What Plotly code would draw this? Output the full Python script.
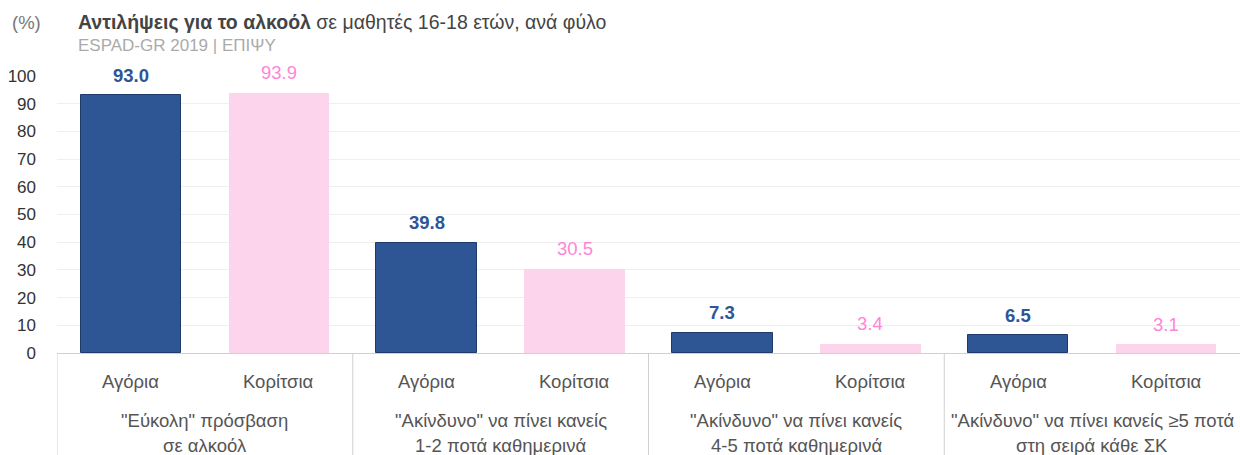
import plotly.graph_objects as go

groups = [
    ["\"Εύκολη\" πρόσβαση", "σε αλκοόλ"],
    ["\"Ακίνδυνο\" να πίνει κανείς", "1-2 ποτά καθημερινά"],
    ["\"Ακίνδυνο\" να πίνει κανείς", "4-5 ποτά καθημερινά"],
    ["\"Ακίνδυνο\" να πίνει κανείς ≥5 ποτά", "στη σειρά κάθε ΣΚ"],
]
sexes = ["Αγόρια", "Κορίτσια"]
boys = [93.0, 39.8, 7.3, 6.5]
girls = [93.9, 30.5, 3.4, 3.1]
y_ticks = list(range(0, 101, 10))

BOY = "#2E5594"
BOY_LINE = "#1E3A6A"
GIRL = "#FCD5EC"
GIRL_TXT = "#FF85D8"
FONT = "Liberation Sans, Arial, sans-serif"
CAT = 18.5

bx = [2 * i for i in range(len(groups))]
gx = [2 * i + 1 for i in range(len(groups))]

fig = go.Figure()
fig.add_trace(go.Bar(x=bx, y=boys, width=0.68, marker=dict(color=BOY, line=dict(color=BOY_LINE, width=1)),
                     hoverinfo="y", name=sexes[0]))
fig.add_trace(go.Bar(x=gx, y=girls, width=0.68, marker=dict(color=GIRL, line=dict(width=0)),
                     hoverinfo="y", name=sexes[1]))

ann = []
for x, v in zip(bx, boys):
    ann.append(dict(x=x, y=v, xref="x", yref="y", text=f"<b>{v:.1f}</b>", showarrow=False,
                    yanchor="middle", yshift=20, font=dict(family=FONT, size=18.5, color=BOY)))
for x, v in zip(gx, girls):
    ann.append(dict(x=x, y=v, xref="x", yref="y", text=f"{v:.1f}", showarrow=False,
                    yanchor="middle", yshift=20, font=dict(family=FONT, size=18.5, color=GIRL_TXT)))
for i, g in enumerate(groups):
    for j, s in enumerate(sexes):
        ann.append(dict(x=2 * i + j, y=0, xref="x", yref="paper", text=s, showarrow=False,
                        yanchor="middle", yshift=-28, font=dict(family=FONT, size=CAT, color="#555")))
    for k, line in enumerate(g):
        ann.append(dict(x=2 * i + 0.5, y=0, xref="x", yref="paper", text=line, showarrow=False,
                        yanchor="middle", yshift=-67 - 25 * k, font=dict(family=FONT, size=CAT, color="#555")))

ann.append(dict(x=0, y=1, xref="paper", yref="paper", xanchor="left", yanchor="middle", xshift=-47, yshift=54,
                text="(%)", showarrow=False, font=dict(family=FONT, size=18.5, color="#777")))
ann.append(dict(x=0, y=1, xref="paper", yref="paper", xanchor="left", yanchor="middle", xshift=19, yshift=54,
                text="<b>Αντιλήψεις για το αλκοόλ</b> σε μαθητές 16-18 ετών, ανά φύλο", showarrow=False,
                font=dict(family=FONT, size=19.5, color="#444")))
ann.append(dict(x=0, y=1, xref="paper", yref="paper", xanchor="left", yanchor="middle", xshift=19, yshift=31,
                text="ESPAD-GR 2019 | ΕΠΙΨΥ", showarrow=False, font=dict(family=FONT, size=17, color="#AAA")))

shapes = []
for b in [-0.5, 1.5, 3.5, 5.5]:
    shapes.append(dict(type="line", xref="x", yref="paper", x0=b, x1=b, y0=0, y1=-0.4,
                       line=dict(color="#D0D0D0", width=1)))

fig.update_layout(
    width=1240, height=455,
    margin=dict(l=57, r=0, t=76, b=102, autoexpand=False),
    plot_bgcolor="white", paper_bgcolor="white",
    showlegend=False, bargap=0,
    annotations=ann, shapes=shapes,
    font=dict(family=FONT, size=17, color="#333"),
    xaxis=dict(range=[-0.5, 7.5], showticklabels=False, showgrid=False, zeroline=False, automargin=False,
               showline=True, linecolor="#D0D0D0", linewidth=1, fixedrange=True),
    yaxis=dict(range=[0, 100], tickvals=y_ticks, showgrid=True, gridcolor="#EFEFEF", gridwidth=1,
               zeroline=False, showline=False, ticklabelstandoff=20, automargin=False,
               tickfont=dict(family=FONT, size=17, color="#333"), fixedrange=True),
)
fig.write_html("out.html", config={"displayModeBar": False},
               post_script="document.body.style.margin='0';document.body.style.overflow='hidden';")
